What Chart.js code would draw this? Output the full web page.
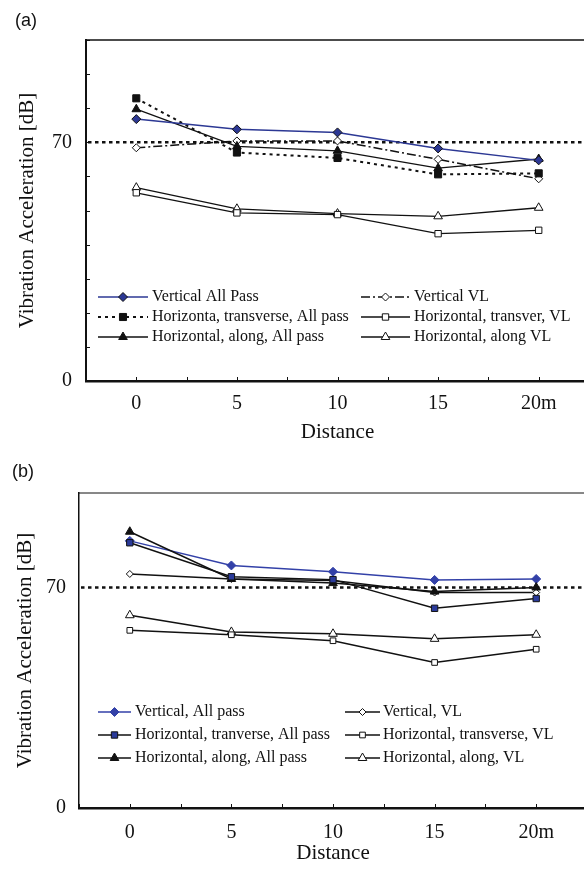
<!DOCTYPE html>
<html>
<head>
<meta charset="utf-8">
<script src="https://cdn.jsdelivr.net/npm/chart.js@4.4.1/dist/chart.umd.min.js"></script>
<style>
  html, body { margin: 0; padding: 0; background: #fff; overflow: hidden; width: 584px; height: 871px; }
  .panel { position: absolute; left: 0; }
  .tag { position: absolute; font-family: 'Liberation Sans', Arial, sans-serif; font-size: 18px; color: #111; line-height: 20px; }
</style>
</head>
<body>
<div class="panel" style="top:0"><canvas id="chartA" width="600" height="450"></canvas></div>
<div class="panel" style="top:440px"><canvas id="chartB" width="600" height="431"></canvas></div>
<div class="tag" style="left:15px;top:10px">(a)</div>
<div class="tag" style="left:12px;top:461px">(b)</div>

<script>
// distances along the track (m)
const distances = [0, 5, 10, 15, 20];
const xTickLabels = ['0', '5', '10', '15', '20m'];
const yTickLabels = [0, 70];
const refLevel = 70;

// panel (a)
const aLabels = ['Vertical All Pass', 'Horizonta, transverse, All pass', 'Horizontal, along, All pass',
                 'Vertical VL', 'Horizontal, transver, VL', 'Horizontal, along VL'];
const aVertAll   = [76.8, 73.8, 72.9, 68.2, 64.7];
const aTransAll  = [82.9, 67.0, 65.4, 60.6, 60.9];
const aAlongAll  = [79.7, 68.8, 67.5, 62.4, 65.1];
const aVertVL    = [68.4, 70.4, 70.4, 65.0, 59.3];
const aTransVL   = [55.2, 49.3, 48.8, 43.2, 44.2];
const aAlongVL   = [56.7, 50.5, 49.1, 48.3, 50.8];

// panel (b)
const bLabels = ['Vertical, All pass', 'Horizontal, tranverse, All pass', 'Horizontal, along, All pass',
                 'Vertical, VL', 'Horizontal, transverse, VL', 'Horizontal, along, VL'];
const bVertAll   = [84.8, 77.0, 75.0, 72.4, 72.7];
const bTransAll  = [84.2, 73.4, 72.5, 63.4, 66.5];
const bAlongAll  = [87.7, 72.7, 71.4, 68.7, 70.0];
const bVertVL    = [74.3, 72.7, 72.2, 68.4, 68.4];
const bTransVL   = [56.4, 55.0, 53.1, 46.2, 50.4];
const bAlongVL   = [61.2, 55.9, 55.3, 53.7, 55.0];

const SERIF = "'Liberation Serif', 'Times New Roman', serif";
const INK = '#111';
const BLUE = '#2c3894';

function pts(values) {
  return values.map((v, i) => ({ x: distances[i], y: v }));
}

function series(label, values, st) {
  return {
    label: label,
    data: pts(values),
    order: st.order || 0,
    borderColor: st.color || INK,
    borderWidth: st.width || 1.3,
    borderDash: st.dash || [],
    pointStyle: st.marker,
    pointRadius: st.r,
    pointBackgroundColor: st.fill,
    pointBorderColor: st.edge || INK,
    pointBorderWidth: 1,
    tension: 0,
    fill: false
  };
}

function marker(ctx, style, r, x, y) {
  ctx.beginPath();
  if (style === 'rect') {
    const s = r * Math.SQRT1_2;
    ctx.rect(x - s, y - s, 2 * s, 2 * s);
  } else if (style === 'rectRot') {
    ctx.moveTo(x, y - r); ctx.lineTo(x + r, y); ctx.lineTo(x, y + r); ctx.lineTo(x - r, y);
    ctx.closePath();
  } else {
    const a = Math.PI * 2 / 3;
    ctx.moveTo(x, y - r);
    ctx.lineTo(x + Math.sin(a) * r, y - Math.cos(a) * r);
    ctx.lineTo(x - Math.sin(a) * r, y - Math.cos(a) * r);
    ctx.closePath();
  }
  ctx.fill();
  ctx.stroke();
}

// frame, inward ticks, 70 dB line and the two-column key
const panelDecor = {
  id: 'panelDecor',
  beforeDatasetsDraw(chart, args, o) {
    const { ctx, chartArea: a, scales: { y } } = chart;
    const yy = y.getPixelForValue(refLevel);
    ctx.save();
    ctx.strokeStyle = INK;
    ctx.lineWidth = 2.5;
    ctx.setLineDash([3.5, 3.5]);
    ctx.beginPath(); ctx.moveTo(a.left + 2, yy); ctx.lineTo(a.right, yy); ctx.stroke();
    ctx.restore();
  },
  afterDraw(chart, args, o) {
    const { ctx, chartArea: a, scales: { x, y } } = chart;
    ctx.save();
    ctx.strokeStyle = INK;
    ctx.lineWidth = o.topWidth;
    ctx.beginPath(); ctx.moveTo(a.left, a.top); ctx.lineTo(a.right, a.top); ctx.stroke();

    ctx.lineWidth = 1;
    x.ticks.forEach(t => {
      const px = Math.round(x.getPixelForValue(t.value)) + 0.5;
      ctx.beginPath(); ctx.moveTo(px, a.bottom); ctx.lineTo(px, a.bottom - 4); ctx.stroke();
    });
    if (o.yTicks) {
      y.ticks.forEach(t => {
        const py = Math.round(y.getPixelForValue(t.value)) + 0.5;
        ctx.beginPath(); ctx.moveTo(a.left, py); ctx.lineTo(a.left + 4, py); ctx.stroke();
      });
    }

    // key
    const K = o.key;
    ctx.font = '16px ' + SERIF;
    ctx.textBaseline = 'middle';
    chart.data.datasets.forEach((ds, i) => {
      const col = K.cols[Math.floor(i / 3)];
      const ry = a.bottom + K.rows[i % 3];
      const x0 = a.left + col.line[0], x1 = a.left + col.line[1];
      ctx.strokeStyle = ds.borderColor;
      ctx.lineWidth = ds.borderWidth;
      ctx.setLineDash(ds.borderDash);
      ctx.beginPath(); ctx.moveTo(x0, ry); ctx.lineTo(x1, ry); ctx.stroke();
      ctx.setLineDash([]);
      ctx.fillStyle = ds.pointBackgroundColor;
      ctx.strokeStyle = ds.pointBorderColor;
      ctx.lineWidth = 1;
      marker(ctx, ds.pointStyle, ds.pointRadius, (x0 + x1) / 2, ry);
      ctx.fillStyle = INK;
      ctx.fillText(ds.label, a.left + col.text, ry);
    });
    ctx.restore();
  }
};

function makeChart(id, datasets, L) {
  return new Chart(document.getElementById(id), {
    type: 'line',
    data: { datasets: datasets },
    options: {
      responsive: false,
      animation: false,
      layout: { padding: { top: L.top, right: L.right, left: 0, bottom: 0 } },
      plugins: {
        legend: { display: false },
        tooltip: { enabled: false },
        panelDecor: { topWidth: L.topWidth, yTicks: L.yTicks, key: L.key }
      },
      scales: {
        x: {
          type: 'linear', min: -2.5, max: 22.5,
          grid: { display: false, drawTicks: false },
          border: { display: true, color: INK, width: L.xBorder },
          ticks: {
            stepSize: 2.5, autoSkip: false, maxRotation: 0, padding: L.xPad, color: INK,
            font: { family: SERIF, size: 20 },
            callback: v => { const i = distances.indexOf(v); return i >= 0 ? xTickLabels[i] : ''; }
          },
          title: { display: true, text: 'Distance', color: INK, font: { family: SERIF, size: 21 },
                   padding: { top: 0, bottom: 5.4 } },
          afterFit(s) { s.height = L.xHeight; }
        },
        y: {
          min: 0, max: 100,
          grid: { display: false, drawTicks: false },
          border: { display: true, color: INK, width: L.yBorder },
          ticks: {
            stepSize: 10, autoSkip: false, padding: L.yPad, color: INK,
            font: { family: SERIF, size: 20 },
            callback: v => yTickLabels.includes(v) ? String(v) : ''
          },
          title: { display: true, text: 'Vibration Acceleration [dB]', color: INK,
                   font: { family: SERIF, size: 21 }, padding: { top: L.yTitlePad, bottom: 0 } },
          afterFit(s) { s.width = L.yWidth; }
        }
      }
    },
    plugins: [panelDecor]
  });
}

makeChart('chartA', [
  series(aLabels[0], aVertAll,  { color: BLUE, width: 1.5, marker: 'rectRot', r: 4.5, fill: BLUE }),
  series(aLabels[1], aTransAll, { width: 2, dash: [3, 4], marker: 'rect', r: 5, fill: INK }),
  series(aLabels[2], aAlongAll, { marker: 'triangle', r: 5, fill: INK }),
  series(aLabels[3], aVertVL,   { width: 1.5, dash: [9, 3, 2, 3], marker: 'rectRot', r: 4, fill: '#fff' }),
  series(aLabels[4], aTransVL,  { marker: 'rect', r: 4.5, fill: '#fff' }),
  series(aLabels[5], aAlongVL,  { marker: 'triangle', r: 5, fill: '#fff' })
], {
  top: 40, right: 8, yWidth: 86, xHeight: 69, xPad: 11, yPad: 14, yTitlePad: 14.4,
  xBorder: 2.5, yBorder: 2, topWidth: 1.5, yTicks: true,
  key: { rows: [-84, -64, -44],
         cols: [{ line: [12, 62], text: 66 }, { line: [275, 324], text: 328 }] }
});

// in (b) the blue line sits underneath the black series
makeChart('chartB', [
  series(bLabels[0], bVertAll,  { color: '#3341a8', width: 1.5, marker: 'rectRot', r: 4.5, fill: '#3341a8', edge: '#3341a8', order: 1 }),
  series(bLabels[1], bTransAll, { width: 1.5, marker: 'rect', r: 4.5, fill: '#2a3a9a' }),
  series(bLabels[2], bAlongAll, { width: 1.5, marker: 'triangle', r: 5, fill: INK }),
  series(bLabels[3], bVertVL,   { width: 1.5, marker: 'rectRot', r: 3.5, fill: '#fff' }),
  series(bLabels[4], bTransVL,  { width: 1.5, marker: 'rect', r: 4, fill: '#fff' }),
  series(bLabels[5], bAlongVL,  { width: 1.5, marker: 'triangle', r: 5, fill: '#fff' })
], {
  top: 53, right: 6, yWidth: 79, xHeight: 63, xPad: 13, yPad: 13, yTitlePad: 12.4,
  xBorder: 2.5, yBorder: 1.5, topWidth: 1, yTicks: false,
  key: { rows: [-96, -73, -50],
         cols: [{ line: [19, 52], text: 56 }, { line: [266, 301], text: 304 }] }
});
</script>
</body>
</html>
